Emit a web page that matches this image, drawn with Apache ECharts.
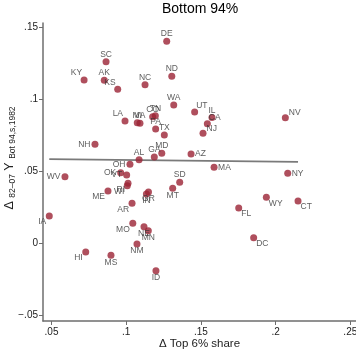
<!DOCTYPE html>
<html>
<head>
<meta charset="utf-8">
<script src="https://cdn.jsdelivr.net/npm/echarts@6/dist/echarts.min.js"></script>
<style>html,body{margin:0;padding:0;background:#fff}#c{width:356px;height:349px}</style>
</head>
<body>
<div id="c"></div>
<script>
// ---- data ----
const states = ['DE','SC','KY','AK','KS','NC','ND','WA','LA','MI','VA','CO','TN','PA','TX','NH','AL','GA','MD','OH','OK','VT','WV','UT','IL','CA','NJ','NV','AZ','MA','NY','SD','MT','WY','CT','FL','DC','IA','ME','RI','WI','OR','IN','AR','MO','NE','MN','NM','HI','MS','ID'];
const topShareChange = [0.1271,0.0865,0.0718,0.0853,0.0943,0.1126,0.1305,0.1318,0.0992,0.1074,0.1092,0.1177,0.1195,0.1197,0.1255,0.0791,0.1086,0.1188,0.1238,0.1025,0.0963,0.1003,0.0590,0.1458,0.1574,0.1543,0.1514,0.2065,0.1434,0.1588,0.2081,0.1358,0.1311,0.1938,0.2150,0.1753,0.1853,0.0485,0.0878,0.1012,0.1007,0.1149,0.1135,0.1039,0.1044,0.1119,0.1148,0.1072,0.0729,0.0898,0.1199];
const bottomIncomeChange = [0.1403,0.1261,0.1134,0.1132,0.1069,0.1101,0.1159,0.0960,0.0849,0.0837,0.0833,0.0879,0.0885,0.0793,0.0751,0.0687,0.0580,0.0598,0.0624,0.0548,0.0489,0.0473,0.0461,0.0911,0.0873,0.0830,0.0763,0.0872,0.0619,0.0527,0.0485,0.0422,0.0381,0.0318,0.0292,0.0244,0.0037,0.0188,0.0362,0.0416,0.0399,0.0355,0.0341,0.0277,0.0137,0.0114,0.0086,-0.0006,-0.0062,-0.0085,-0.0192];
const fitX = [0.0485, 0.2150];
const fitY = [0.0583, 0.0565];
const xTicks = [0.05, 0.1, 0.15, 0.2, 0.25];
const yTicks = [-0.05, 0, 0.05, 0.1, 0.15];
const yTitle = '{m|\u0394} {s|82\u201307} {m|Y} {s|Bot 94,s,1982}';

// ---- styling: marker-label clock positions (Stata style) ----
const clockOf = {DE:12,SC:12,KY:11,AK:12,KS:11,NC:12,ND:12,WA:12,LA:11,MI:12,VA:12,CO:12,TN:12,PA:12,TX:12,NH:9,AL:12,GA:12,MD:12,OH:9,OK:9,VT:9,WV:9,UT:1,IL:12,CA:1,NJ:2,NV:2,AZ:3,MA:3,NY:3,SD:12,MT:6,WY:5,CT:5,FL:5,DC:5,IA:7,ME:7,RI:7,WI:7,OR:6,IN:6,AR:7,MO:7,NE:6,MN:6,NM:6,HI:7,MS:6,ID:6};
const clockStyle = {
  12:{align:'center',d:[0,-7.3]},
  6:{align:'center',d:[0,7]},
  9:{align:'right',d:[-4.5,0]},
  3:{align:'left',d:[4,0]},
  11:{align:'right',d:[-2,-7]},
  1:{align:'left',d:[1.5,-6.5]},
  2:{align:'left',d:[3.5,-4.5]},
  5:{align:'left',d:[2.5,6]},
  7:{align:'right',d:[-3,6]}
};
const SYM = 7;

const fmt = v => {
  if (Math.abs(v) < 1e-9) return '0';
  const s = String(+Math.abs(v).toFixed(3)).replace(/^0/, '');
  return (v < 0 ? '\u2212' : '') + s;
};

const pts = states.map((s, i) => {
  const cs = clockStyle[clockOf[s]];
  return {name: s, value: [topShareChange[i], bottomIncomeChange[i]],
    label: {position: [SYM / 2 + cs.d[0], SYM / 2 + cs.d[1]], align: cs.align, verticalAlign: 'middle'}};
});

const FONT = 'Liberation Sans, Arial, Helvetica, sans-serif';
const axisCol = '#6e6e6e';
const chart = echarts.init(document.getElementById('c'), null, {renderer: 'canvas'});
chart.setOption({
  animation: false,
  backgroundColor: '#fff',
  title: {text: 'Bottom 94%', left: 162, top: 2, padding: 0,
    textStyle: {fontFamily: FONT, fontSize: 14, fontWeight: 'normal', color: '#000'}},
  grid: {left: 43, right: 0, top: 23, bottom: 28, containLabel: false, outerBoundsMode: 'none'},
  graphic: [{
    type: 'text', x: 10, y: 158, rotation: Math.PI / 2, silent: true,
    style: {text: yTitle, align: 'center', verticalAlign: 'middle',
      fontFamily: FONT, fontSize: 12.5, fill: '#222',
      rich: {m: {fontFamily: FONT, fontSize: 12.5, fill: '#222', lineHeight: 15},
             s: {fontFamily: FONT, fontSize: 8.5, fill: '#222', lineHeight: 15, verticalAlign: 'bottom', padding: [4, 0, 0, 0]}}}
  }],
  xAxis: {
    type: 'value', min: 0.0443, max: 0.2538,
    name: '\u0394 Top 6% share', nameLocation: 'middle', nameGap: 17, nameMoveOverlap: false,
    nameTextStyle: {fontFamily: FONT, fontSize: 11.5, color: '#222'},
    axisLine: {show: true, onZero: false, lineStyle: {color: axisCol, width: 1.5}},
    axisTick: {show: true, length: 4, customValues: xTicks, lineStyle: {color: axisCol, width: 1}},
    axisLabel: {customValues: xTicks, formatter: fmt, margin: 6, fontFamily: FONT, fontSize: 10, color: '#222'},
    splitLine: {show: false}
  },
  yAxis: {
    type: 'value', min: -0.05417, max: 0.15299,
    axisLine: {show: true, onZero: false, lineStyle: {color: axisCol, width: 1.5}},
    axisTick: {show: true, length: 4, customValues: yTicks, lineStyle: {color: axisCol, width: 1}},
    axisLabel: {customValues: yTicks, formatter: fmt, margin: 5, fontFamily: FONT, fontSize: 10, color: '#222'},
    splitLine: {show: false}
  },
  series: [
    {type: 'line', data: fitX.map((x, i) => [x, fitY[i]]), symbol: 'none', z: 1,
     lineStyle: {color: '#7a7a7a', width: 1.8}, silent: true},
    {type: 'scatter', data: pts, symbol: 'circle', symbolSize: SYM, z: 2,
     itemStyle: {color: '#9b2335'},
     label: {show: true, formatter: p => p.name,
       fontFamily: FONT, fontSize: 8.5, color: '#333'},
     labelLayout: {hideOverlap: false}}
  ]
});
</script>
</body>
</html>
